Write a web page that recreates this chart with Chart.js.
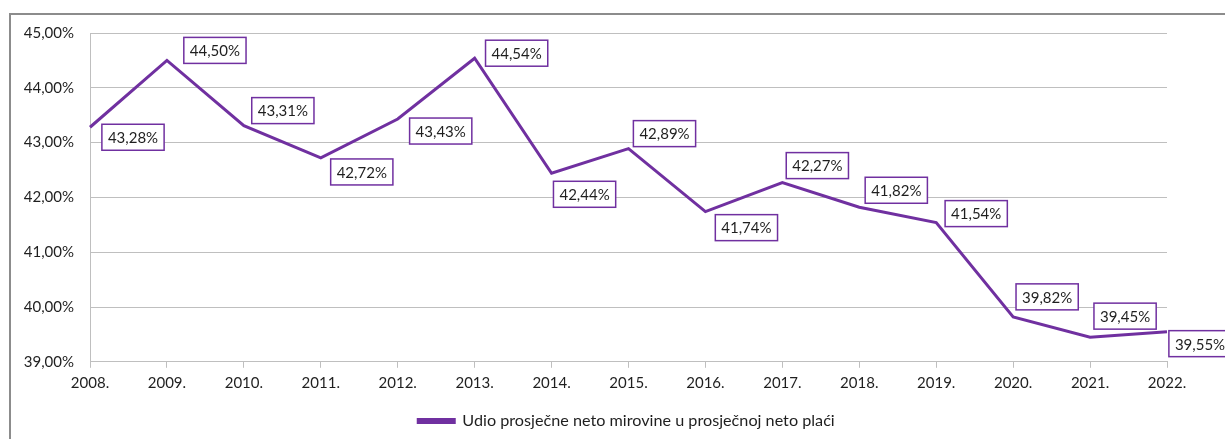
<!DOCTYPE html>
<html>
<head>
<meta charset="utf-8">
<script src="https://cdn.jsdelivr.net/npm/chart.js@4/dist/chart.umd.min.js"></script>
<style>
    html, body { margin: 0; padding: 0; background: #fff; }
    #wrap { width: 1225px; height: 439px; position: relative; }
</style>
</head>
<body>
<div id="wrap"><canvas id="mycanvas" width="1225" height="439"></canvas></div>
<script>
var years = ["2008.", "2009.", "2010.", "2011.", "2012.", "2013.", "2014.", "2015.",
    "2016.", "2017.", "2018.", "2019.", "2020.", "2021.", "2022."];
var udio = [43.28, 44.50, 43.31, 42.72, 43.43, 44.54, 42.44, 42.89,
    41.74, 42.27, 41.82, 41.54, 39.82, 39.45, 39.55];
var yTicks = [39, 40, 41, 42, 43, 44, 45];
var seriesName = "Udio prosječne neto mirovine u prosječnoj neto plaći";

// where each value box sits relative to its point (box centre, px)
var labelDx = [43, 48, 39, 41, 43, 42, 33, 36, 41, 35, 37, 40, 34, 35, 33];
var labelDy = [10, -10, -15, 14, 12, -5, 21, -15, 16, -17, -17, -9, -20, -21, 12];

var purple = '#7030A0';
var font = 'Lato, "Open Sans", sans-serif';

function pct(v) {
    return v.toFixed(2).replace('.', ',') + '%';
}

// grey frame of the chart object
var framePlugin = {
    id: 'frame',
    beforeDraw: function (chart) {
        var c = chart.ctx;
        c.save();
        c.fillStyle = '#fff';
        c.fillRect(0, 0, chart.width, chart.height);
        c.strokeStyle = '#8c8c8c';
        c.lineWidth = 2;
        c.strokeRect(10, 14, chart.width + 20, chart.height + 20);
        c.restore();
    }
};

// the legend is centred on the whole frame, not only the plot
var legendShift = {
    id: 'legendShift',
    afterLayout: function (chart) {
        chart.legend.left += 43;
        chart.legend.right += 43;
    }
};

// boxed value labels
var boxLabels = {
    id: 'boxLabels',
    afterDatasetsDraw: function (chart) {
        var c = chart.ctx;
        var meta = chart.getDatasetMeta(0);
        c.save();
        c.font = '15px ' + font;
        c.textAlign = 'center';
        c.textBaseline = 'middle';
        meta.data.forEach(function (pt, i) {
            var text = pct(udio[i]);
            var w = c.measureText(text).width + 12;
            var h = 26;
            var cx = pt.x + labelDx[i];
            var cy = pt.y + labelDy[i];
            c.fillStyle = '#fff';
            c.fillRect(cx - w / 2, cy - h / 2, w, h);
            c.strokeStyle = purple;
            c.lineWidth = 1.5;
            c.strokeRect(cx - w / 2, cy - h / 2, w, h);
            c.fillStyle = '#1f1f1f';
            c.fillText(text, cx, cy + 1);
        });
        c.restore();
    }
};

var ctx = document.getElementById('mycanvas');

var lineChart = new Chart(ctx, {
    type: 'line',
    data: {
        labels: years,
        datasets: [
            {
                label: seriesName,
                data: udio,
                borderColor: purple,
                backgroundColor: purple,
                borderWidth: 3,
                pointRadius: 0,
                tension: 0,
                clip: false
            }
        ]
    },
    options: {
        responsive: false,
        animation: false,
        layout: {
            padding: { left: 0, right: 58, top: 33, bottom: 0 }
        },
        plugins: {
            legend: {
                position: 'bottom',
                labels: {
                    boxWidth: 36,
                    boxHeight: 3,
                    padding: 12,
                    color: '#1f1f1f',
                    font: { family: font, size: 16.2 }
                }
            },
            tooltip: { enabled: false }
        },
        scales: {
            x: {
                offset: false,
                grid: {
                    drawOnChartArea: false,
                    color: '#bfbfbf',
                    tickLength: 6
                },
                border: { color: '#bfbfbf' },
                ticks: {
                    color: '#1f1f1f',
                    maxRotation: 0,
                    autoSkip: false,
                    padding: 6,
                    font: { family: font, size: 15 }
                },
                afterFit: function (scale) {
                    scale.height = 39;
                }
            },
            y: {
                min: yTicks[0],
                max: yTicks[yTicks.length - 1],
                afterBuildTicks: function (scale) {
                    scale.ticks = yTicks.map(function (v) { return { value: v }; });
                },
                grid: {
                    color: '#bfbfbf',
                    tickLength: 0
                },
                border: { color: '#bfbfbf' },
                ticks: {
                    color: '#1f1f1f',
                    padding: 16,
                    callback: function (v) { return pct(v); },
                    font: { family: font, size: 15 }
                },
                afterFit: function (scale) {
                    scale.width = 90;
                }
            }
        }
    },
    plugins: [framePlugin, legendShift, boxLabels]
});
</script>
</body>
</html>
